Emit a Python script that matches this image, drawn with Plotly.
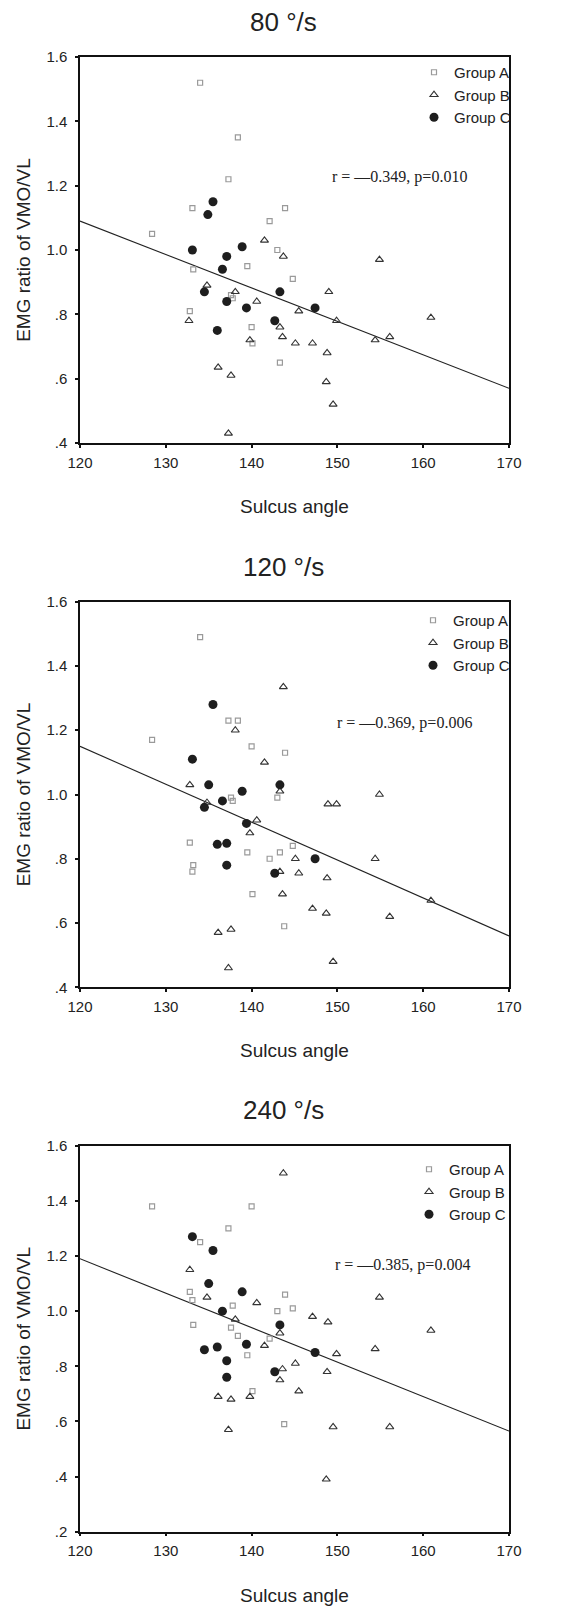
import plotly.graph_objects as go

# ---------------- data ----------------
panel_titles = ["80 °/s", "120 °/s", "240 °/s"]
r_texts = ["r = —0.349, p=0.010", "r = —0.369, p=0.006", "r = —0.385, p=0.004"]

x_ticks = [120, 130, 140, 150, 160, 170]
y_ticks_a = [0.4, 0.6, 0.8, 1.0, 1.2, 1.4, 1.6]
y_ticktext_a = [".4", ".6", ".8", "1.0", "1.2", "1.4", "1.6"]
y_ticks_b = [0.2, 0.4, 0.6, 0.8, 1.0, 1.2, 1.4, 1.6]
y_ticktext_b = [".2", ".4", ".6", ".8", "1.0", "1.2", "1.4", "1.6"]

fit_x = [120, 170]
fit_y_80 = [1.09, 0.57]
fit_y_120 = [1.15, 0.56]
fit_y_240 = [1.19, 0.565]

# 80 deg/s
A_x_80 = [134.0, 138.4, 137.3, 133.1, 143.9, 142.1, 128.4, 143.0, 139.5, 144.8, 133.2, 132.8, 137.6, 137.8, 140.0, 140.1, 143.3]
A_y_80 = [1.52, 1.35, 1.22, 1.13, 1.13, 1.09, 1.05, 1.00, 0.95, 0.91, 0.94, 0.81, 0.86, 0.85, 0.76, 0.71, 0.65]
B_x_80 = [141.5, 143.7, 154.9, 134.8, 138.1, 140.6, 149.0, 145.5, 149.9, 132.7, 160.9, 143.3, 143.6, 139.8, 145.1, 147.1, 154.4, 156.1, 148.8, 136.1, 137.6, 148.7, 149.5, 137.3]
B_y_80 = [1.03, 0.98, 0.97, 0.89, 0.87, 0.84, 0.87, 0.81, 0.78, 0.78, 0.79, 0.76, 0.73, 0.72, 0.71, 0.71, 0.72, 0.73, 0.68, 0.635, 0.61, 0.59, 0.52, 0.43]
C_x_80 = [135.5, 134.9, 133.1, 138.9, 137.1, 136.6, 134.5, 143.3, 137.1, 139.4, 147.4, 142.7, 136.0]
C_y_80 = [1.15, 1.11, 1.00, 1.01, 0.98, 0.94, 0.87, 0.87, 0.84, 0.82, 0.82, 0.78, 0.75]

# 120 deg/s
A_x_120 = [134.0, 137.3, 138.4, 128.4, 140.0, 143.9, 137.6, 137.8, 143.0, 132.8, 139.5, 143.3, 144.8, 142.1, 133.2, 133.1, 140.1, 143.8]
A_y_120 = [1.49, 1.23, 1.23, 1.17, 1.15, 1.13, 0.99, 0.98, 0.99, 0.85, 0.82, 0.82, 0.84, 0.80, 0.78, 0.76, 0.69, 0.59]
B_x_120 = [143.7, 138.1, 141.5, 132.8, 143.3, 154.9, 148.9, 149.9, 134.8, 140.6, 139.8, 145.1, 154.4, 143.3, 145.5, 148.8, 143.6, 160.9, 147.1, 148.7, 156.1, 137.6, 136.1, 149.5, 137.3]
B_y_120 = [1.335, 1.20, 1.10, 1.03, 1.01, 1.00, 0.97, 0.97, 0.975, 0.92, 0.88, 0.80, 0.80, 0.76, 0.755, 0.74, 0.69, 0.67, 0.645, 0.63, 0.62, 0.58, 0.57, 0.48, 0.46]
C_x_120 = [135.5, 133.1, 135.0, 143.3, 138.9, 136.6, 134.5, 139.4, 136.0, 137.1, 147.4, 137.1, 142.7]
C_y_120 = [1.28, 1.11, 1.03, 1.03, 1.01, 0.98, 0.96, 0.91, 0.845, 0.848, 0.80, 0.78, 0.755]

# 240 deg/s
A_x_240 = [128.4, 140.0, 137.3, 134.0, 132.8, 133.1, 143.9, 137.8, 143.0, 144.8, 133.2, 137.6, 138.4, 142.1, 139.5, 140.1, 143.8]
A_y_240 = [1.38, 1.38, 1.30, 1.25, 1.07, 1.04, 1.06, 1.02, 1.00, 1.01, 0.95, 0.94, 0.91, 0.90, 0.84, 0.71, 0.59]
B_x_240 = [143.7, 132.8, 134.8, 154.9, 140.6, 138.1, 147.1, 148.9, 143.3, 160.9, 149.9, 154.4, 141.5, 145.1, 143.6, 148.8, 143.3, 145.5, 136.1, 137.6, 139.8, 137.3, 149.5, 156.1, 148.7]
B_y_240 = [1.50, 1.15, 1.05, 1.05, 1.03, 0.97, 0.98, 0.96, 0.92, 0.93, 0.845, 0.863, 0.875, 0.81, 0.79, 0.78, 0.75, 0.71, 0.69, 0.68, 0.69, 0.57, 0.58, 0.58, 0.39]
C_x_240 = [133.1, 135.5, 135.0, 138.9, 136.6, 143.3, 139.4, 147.4, 134.5, 136.0, 137.1, 142.7, 137.1]
C_y_240 = [1.27, 1.22, 1.10, 1.07, 1.00, 0.95, 0.88, 0.85, 0.86, 0.87, 0.82, 0.78, 0.76]

# ---------------- figure ----------------
W, H = 567, 1608
SANS = "Liberation Sans, Arial, sans-serif"
SERIF = "Liberation Serif, Times New Roman, serif"

panels = [
    dict(A=(A_x_80, A_y_80), B=(B_x_80, B_y_80), C=(C_x_80, C_y_80), fit=fit_y_80,
         yr=[0.4, 1.6], yt=(y_ticks_a, y_ticktext_a), top=57, bot=443,
         title_y=21.7, leg=(414, 56), rpos=(149.1, 1.227)),
    dict(A=(A_x_120, A_y_120), B=(B_x_120, B_y_120), C=(C_x_120, C_y_120), fit=fit_y_120,
         yr=[0.4, 1.6], yt=(y_ticks_a, y_ticktext_a), top=601.7, bot=987.3,
         title_y=566.7, leg=(413, 604), rpos=(149.7, 1.222)),
    dict(A=(A_x_240, A_y_240), B=(B_x_240, B_y_240), C=(C_x_240, C_y_240), fit=fit_y_240,
         yr=[0.2, 1.6], yt=(y_ticks_b, y_ticktext_b), top=1145.7, bot=1531.7,
         title_y=1110, leg=(409, 1153), rpos=(149.5, 1.167)),
]

fig = go.Figure()
layout = dict(
    width=W, height=H,
    margin=dict(l=0, r=0, t=0, b=0),
    paper_bgcolor="white", plot_bgcolor="white",
    font=dict(family=SANS, color="#222222"),
    annotations=[],
)

for i, p in enumerate(panels):
    k = "" if i == 0 else str(i + 1)
    xa, ya, lg = "x" + k, "y" + k, "legend" + k

    fig.add_trace(go.Scatter(x=fit_x, y=p["fit"], mode="lines",
                             line=dict(color="#222222", width=1.1),
                             showlegend=False, hoverinfo="skip",
                             xaxis=xa, yaxis=ya))
    fig.add_trace(go.Scatter(x=p["A"][0], y=p["A"][1], mode="markers", name="Group A",
                             marker=dict(symbol="square-open", size=5, color="#9a9a9a",
                                         line=dict(width=1.2, color="#9a9a9a")),
                             xaxis=xa, yaxis=ya, legend=lg))
    fig.add_trace(go.Scatter(x=p["B"][0], y=p["B"][1], mode="markers", name="Group B",
                             marker=dict(symbol="triangle-up-open", size=7, color="#333333",
                                         line=dict(width=1.1, color="#333333")),
                             xaxis=xa, yaxis=ya, legend=lg))
    fig.add_trace(go.Scatter(x=p["C"][0], y=p["C"][1], mode="markers", name="Group C",
                             marker=dict(symbol="circle", size=9, color="#1e1e1e",
                                         line=dict(width=0)),
                             xaxis=xa, yaxis=ya, legend=lg))

    layout["xaxis" + k] = dict(
        domain=[80 / W, 509 / W], anchor=ya, range=[120, 170],
        tickmode="array", tickvals=x_ticks,
        ticks="outside", ticklen=3, tickwidth=2, tickcolor="#111111",
        ticklabelstandoff=2,
        showline=True, linecolor="#111111", linewidth=1.5, mirror=True,
        showgrid=False, zeroline=False, automargin=False,
        tickfont=dict(family=SANS, size=15, color="#222222"),
        title=dict(text="Sulcus angle", font=dict(family=SANS, size=19, color="#222222"),
                   standoff=30),
    )
    layout["yaxis" + k] = dict(
        domain=[1 - p["bot"] / H, 1 - p["top"] / H], anchor=xa, range=p["yr"],
        tickmode="array", tickvals=p["yt"][0], ticktext=p["yt"][1],
        ticks="outside", ticklen=3, tickwidth=2, tickcolor="#111111",
        ticklabelstandoff=5,
        showline=True, linecolor="#111111", linewidth=1.5, mirror=True,
        showgrid=False, zeroline=False, automargin=False,
        tickfont=dict(family=SANS, size=15, color="#222222"),
        title=dict(text="EMG ratio of VMO/VL", font=dict(family=SANS, size=19, color="#222222"),
                   standoff=11),
    )
    layout[lg] = dict(
        x=p["leg"][0] / W, y=1 - p["leg"][1] / H, xanchor="left", yanchor="top",
        bgcolor="rgba(0,0,0,0)", borderwidth=0,
        font=dict(family=SANS, size=15, color="#222222"),
    )
    layout["annotations"].append(dict(
        text=panel_titles[i], x=0.5, y=1 - p["title_y"] / H, xref="paper", yref="paper",
        xanchor="center", yanchor="middle", showarrow=False,
        font=dict(family=SANS, size=26, color="#222222"),
    ))
    layout["annotations"].append(dict(
        text=r_texts[i], x=p["rpos"][0], y=p["rpos"][1], xref=xa, yref=ya,
        xanchor="left", yanchor="middle", showarrow=False,
        font=dict(family=SERIF, size=16, color="#222222"),
    ))

fig.update_layout(**layout)
fig.write_html("out.html",
               config={"displayModeBar": False},
               post_script="document.body.style.margin='0';document.body.style.overflow='hidden';")
